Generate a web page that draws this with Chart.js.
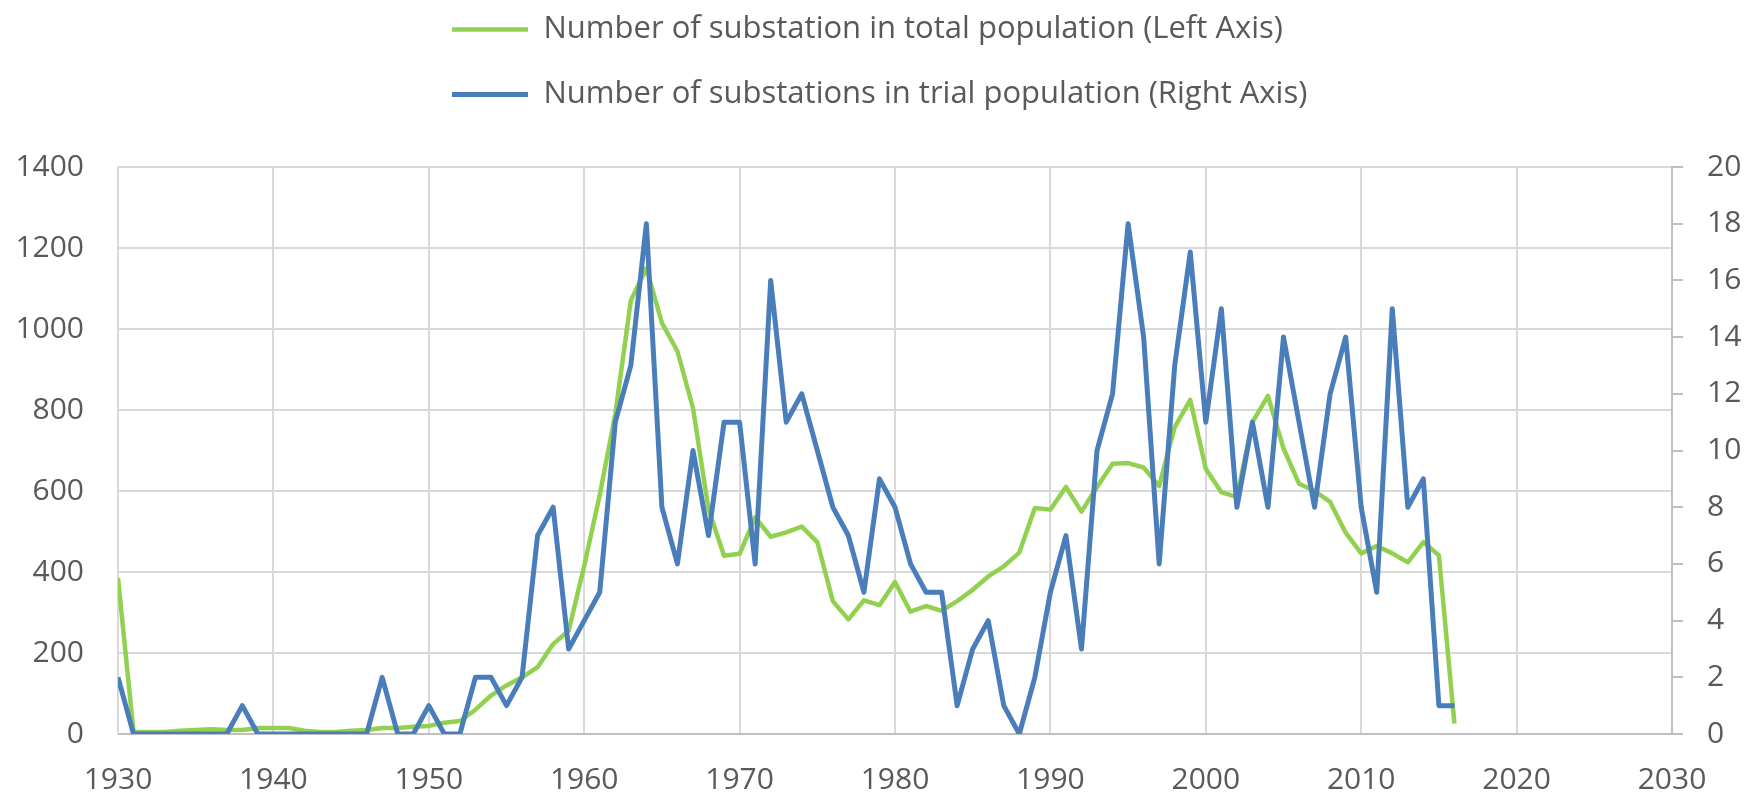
<!DOCTYPE html>
<html>
<head>
<meta charset="utf-8">
<script src="https://cdn.jsdelivr.net/npm/chart.js@4.4.1/dist/chart.umd.min.js"></script>
<style>
  html, body { margin: 0; padding: 0; background: #ffffff; overflow: hidden; }
  #wrap { width: 1745px; height: 797px; position: relative; }
  #c { display: block; }
</style>
</head>
<body>
<div id="wrap"><canvas id="c"></canvas></div>
<script>
const years = [1930,1931,1932,1933,1934,1935,1936,1937,1938,1939,
  1940,1941,1942,1943,1944,1945,1946,1947,1948,1949,
  1950,1951,1952,1953,1954,1955,1956,1957,1958,1959,
  1960,1961,1962,1963,1964,1965,1966,1967,1968,1969,
  1970,1971,1972,1973,1974,1975,1976,1977,1978,1979,
  1980,1981,1982,1983,1984,1985,1986,1987,1988,1989,
  1990,1991,1992,1993,1994,1995,1996,1997,1998,1999,
  2000,2001,2002,2003,2004,2005,2006,2007,2008,2009,
  2010,2011,2012,2013,2014,2015,2016];

// Left axis: number of substations in total population
const totalPopulation = [385,5,5,5,8,10,12,10,10,15,
  15,15,8,5,5,8,10,15,15,18,
  20,28,32,60,95,120,140,165,222,255,
  415,590,790,1070,1150,1015,945,805,555,440,
  445,535,487,498,512,474,328,283,330,318,
  375,302,316,304,328,356,389,414,448,558,
  554,610,549,610,667,669,658,612,758,825,
  655,597,585,770,835,705,618,600,573,497,
  446,464,446,424,474,441,26];

// Right axis: number of substations in trial population
const trialPopulation = [2,0,0,0,0,0,0,0,1,0,
  0,0,0,0,0,0,0,2,0,0,
  1,0,0,2,2,1,2,7,8,3,
  4,5,11,13,18,8,6,10,7,11,
  11,6,16,11,12,10,8,7,5,9,
  8,6,5,5,1,3,4,1,0,2,
  5,7,3,10,12,18,14,6,13,17,
  11,15,8,11,8,14,11,8,12,14,
  8,5,15,8,9,1,1];

const xTicks = [1930,1940,1950,1960,1970,1980,1990,2000,2010,2020,2030];
const leftTicks = [0,200,400,600,800,1000,1200,1400];
const rightTicks = [0,2,4,6,8,10,12,14,16,18,20];

const labelTotal = 'Number of substation in total population (Left Axis)';
const labelTrial = 'Number of substations in trial population (Right Axis)';

const GREEN = '#92D050';
const BLUE = '#4A7EBB';
const GRID = '#D9D9D9';
const AXIS = '#BFBFBF';
const TEXT = '#595959';
const FONT = '"Open Sans", Lato, "DejaVu Sans", sans-serif';

// place the two-row legend block (rows left-aligned) above the plot
const legendShift = {
  id: 'legendShift',
  afterLayout(chart) {
    const lg = chart.legend;
    if (lg) {
      lg.left = 418;
      lg.right = 1672;
      lg.top -= 47;
      lg.bottom -= 47;
    }
  }
};

new Chart(document.getElementById('c'), {
  type: 'line',
  data: {
    datasets: [
      {
        label: labelTotal,
        data: years.map((yr, i) => ({ x: yr, y: totalPopulation[i] })),
        borderColor: GREEN,
        backgroundColor: GREEN,
        borderWidth: 4.5,
        pointRadius: 0,
        tension: 0,
        borderJoinStyle: 'round',
        yAxisID: 'y',
        order: 1
      },
      {
        label: labelTrial,
        data: years.map((yr, i) => ({ x: yr, y: trialPopulation[i] })),
        borderColor: BLUE,
        backgroundColor: BLUE,
        borderWidth: 5,
        pointRadius: 0,
        tension: 0,
        borderJoinStyle: 'round',
        yAxisID: 'y1',
        order: 0
      }
    ]
  },
  options: {
    responsive: true,
    maintainAspectRatio: false,
    animation: false,
    devicePixelRatio: 1,
    layout: { padding: { top: 27, left: 0, right: 0, bottom: 0 } },
    plugins: {
      tooltip: { enabled: false },
      legend: {
        position: 'top',
        align: 'start',
        fullSize: false,
        labels: {
          sort: (a, b) => a.datasetIndex - b.datasetIndex,
          usePointStyle: true,
          pointStyle: 'line',
          pointStyleWidth: 76,
          boxWidth: 76,
          padding: 34,
          color: TEXT,
          font: { family: FONT, size: 31 }
        }
      }
    },
    scales: {
      x: {
        type: 'linear',
        min: 1930,
        max: 2030,
        afterBuildTicks: (s) => { s.ticks = xTicks.map(v => ({ value: v })); },
        afterFit: (s) => { s.height = 63; },
        ticks: {
          color: TEXT,
          font: { family: FONT, size: 30 },
          padding: 28,
          maxRotation: 0,
          callback: (v) => String(v)
        },
        grid: { color: GRID, lineWidth: 2, drawTicks: false },
        border: { color: AXIS, width: 2 }
      },
      y: {
        type: 'linear',
        position: 'left',
        min: 0,
        max: 1400,
        afterBuildTicks: (s) => { s.ticks = leftTicks.map(v => ({ value: v })); },
        afterFit: (s) => { s.width = 118; },
        ticks: {
          color: TEXT,
          font: { family: FONT, size: 30 },
          padding: 34,
          callback: (v) => String(v)
        },
        grid: { color: GRID, lineWidth: 2, drawTicks: false },
        border: { color: GRID, width: 2 }
      },
      y1: {
        type: 'linear',
        position: 'right',
        min: 0,
        max: 20,
        afterBuildTicks: (s) => { s.ticks = rightTicks.map(v => ({ value: v })); },
        afterFit: (s) => { s.width = 73; },
        ticks: {
          color: TEXT,
          font: { family: FONT, size: 30 },
          padding: 24,
          callback: (v) => String(v)
        },
        grid: { color: AXIS, lineWidth: 2, drawOnChartArea: false, drawTicks: true, tickLength: 11 },
        border: { color: AXIS, width: 2 }
      }
    }
  },
  plugins: [legendShift]
});
</script>
</body>
</html>
